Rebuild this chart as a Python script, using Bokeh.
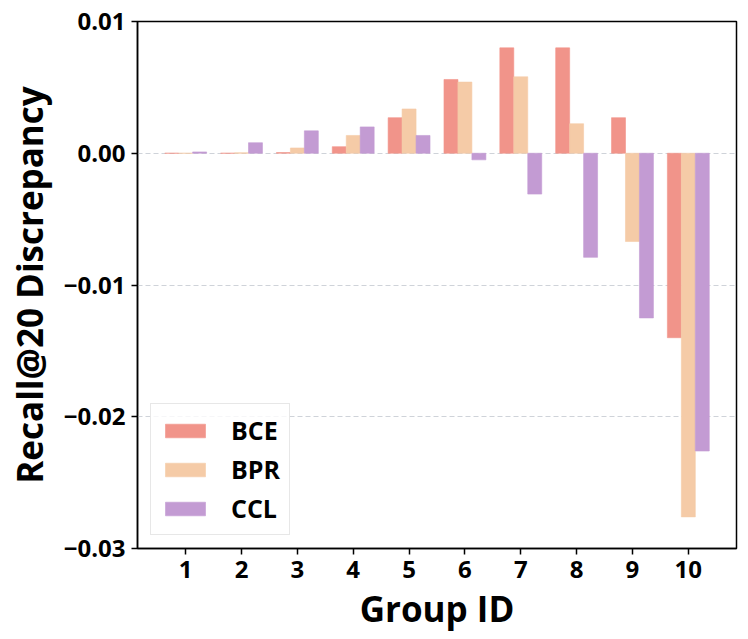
from bokeh.plotting import figure
from bokeh.embed import file_html
from bokeh.resources import INLINE
from bokeh.models import FixedTicker, CustomJSTickFormatter, Range1d, Legend

groups = [1, 2, 3, 4, 5, 6, 7, 8, 9, 10]
bce = [0.0000, 0.0000, 0.00005, 0.0005, 0.0027, 0.0056, 0.0080, 0.0080, 0.0027, -0.0140]
bpr = [0.0000, 0.00003, 0.0004, 0.00135, 0.00336, 0.0054, 0.0058, 0.00224, -0.0067, -0.0276]
ccl = [0.0001, 0.0008, 0.0017, 0.0020, 0.00135, -0.0005, -0.0031, -0.0079, -0.0125, -0.0226]
series_names = ["BCE", "BPR", "CCL"]
colors = ["#F1948A", "#F5CBA7", "#C39BD3"]
y_ticks = [-0.03, -0.02, -0.01, 0.0, 0.01]

FONT = "Open Sans"

p = figure(width=748, height=639, output_backend="svg", toolbar_location=None,
           x_range=Range1d(0.1375, 10.8625), y_range=Range1d(-0.03, 0.01))
p.min_border_left = 137
p.min_border_right = 12
p.min_border_top = 21
p.min_border_bottom = 91

width = 0.25
offsets = [-0.25, 0.0, 0.25]
renderers = []
for vals, name, col, off in zip([bce, bpr, ccl], series_names, colors, offsets):
    xs = [g + off for g in groups]
    r = p.vbar(x=xs, top=vals, bottom=0, width=width, fill_color=col,
               line_color=col, line_alpha=0.6, line_width=1)
    renderers.append((name, [r]))

legend = Legend(items=renderers, location="bottom_left")
legend.label_text_font = "Open Sans"
legend.label_text_font_style = "bold"
legend.label_text_font_size = "25px"
legend.label_text_color = "black"
legend.glyph_width = 50
legend.glyph_height = 17
legend.spacing = 5
legend.padding = 9
legend.margin = 13
legend.label_standoff = 21
legend.border_line_color = "#d0d0d0"
legend.border_line_width = 1
legend.background_fill_color = "white"
legend.background_fill_alpha = 0.8
p.add_layout(legend)

p.xaxis.ticker = FixedTicker(ticks=groups)
p.yaxis.ticker = FixedTicker(ticks=y_ticks)
p.yaxis.formatter = CustomJSTickFormatter(code="""
const s = Math.abs(tick) < 1e-12 ? "0.00" : tick.toFixed(2);
return s.replace('-', '\u2212');
""")

for ax in [p.xaxis[0], p.yaxis[0]]:
    ax.major_label_text_font = FONT
    ax.major_label_text_font_style = "bold"
    ax.major_label_text_font_size = "24px"
    ax.major_label_text_color = "black"
    ax.major_label_standoff = 6
    ax.axis_label_text_font = FONT
    ax.axis_label_text_font_style = "bold"
    ax.axis_label_text_font_size = "35px"
    ax.axis_label_text_color = "black"
    ax.axis_line_color = "black"
    ax.axis_line_width = 1.5
    ax.major_tick_line_color = "black"
    ax.major_tick_line_width = 1.5
    ax.major_tick_out = 6
    ax.major_tick_in = 0
    ax.minor_tick_line_color = None

p.xaxis.axis_label = "Group ID"
p.yaxis.axis_label = "Recall@20 Discrepancy"
p.xaxis.axis_label_standoff = 4
p.yaxis.axis_label_standoff = 8

p.xgrid.grid_line_color = None
p.ygrid.grid_line_color = "#cfd3d9"
p.ygrid.grid_line_dash = "5 3"
p.ygrid.grid_line_width = 1

p.outline_line_color = "black"
p.outline_line_width = 1.5
p.background_fill_color = "white"
p.border_fill_color = "white"

open("out.html", "w").write(file_html(p, INLINE))
